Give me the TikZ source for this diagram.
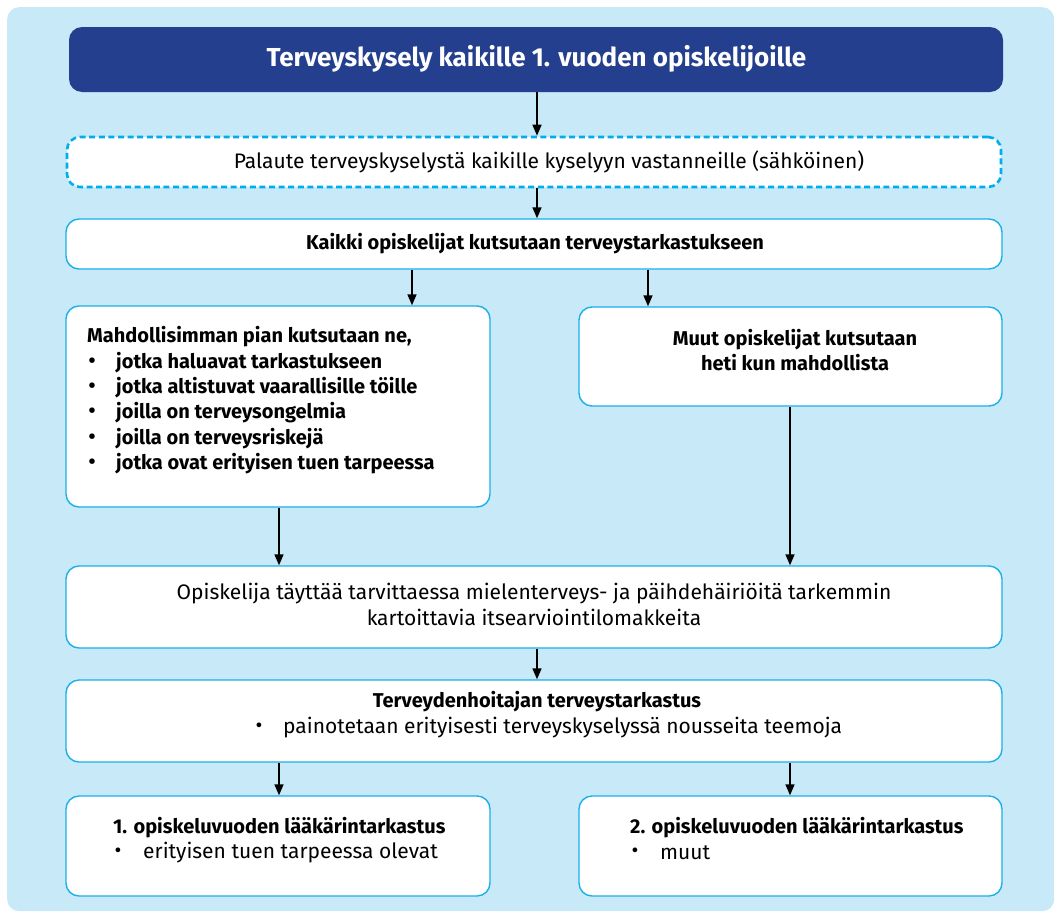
\documentclass[tikz,border=0pt]{standalone}
\usepackage{fontspec}
\setmainfont{Fira Sans}
\usetikzlibrary{arrows.meta}
\definecolor{bgblue}{HTML}{C7E9F8}
\definecolor{navy}{HTML}{243F8D}
\definecolor{cyanb}{HTML}{1AB0EA}
\definecolor{dashc}{HTML}{00AEEF}
\tikzset{
  box/.style={draw=cyanb, line width=1.4pt, fill=white, rounded corners=13pt, inner sep=0pt},
  dbox/.style={draw=dashc, line width=2.6pt, dash pattern=on 6pt off 3.6pt, fill=white, rounded corners=13pt, inner sep=0pt},
  hbox/.style={fill=navy, rounded corners=13pt, inner sep=0pt},
  txt/.style={inner sep=0pt, font=\fontsize{21}{25}\selectfont, text=black},
  btxt/.style={txt, font=\fontsize{20}{25}\selectfont\bfseries},
  arr/.style={line width=1.6pt, -{Triangle[length=11pt,width=9pt]}},
}
\begin{document}
\begin{tikzpicture}[x=1pt,y=-1pt]
\useasboundingbox (0,0) rectangle (1054,913);
\node[fill=bgblue, rounded corners=12pt, inner sep=0pt, minimum width=1047pt, minimum height=904pt, anchor=north west] (bg) at (7,7) {};
% boxes
\node[hbox, minimum width=934pt, minimum height=65pt] (h) at (536,59.5) {};
\node[font=\fontsize{26}{30}\selectfont\bfseries, text=white, inner sep=0pt] (ht) at (536.5,59) {Terveyskysely kaikille 1. vuoden opiskelijoille};
\node[dbox, minimum width=934pt, minimum height=50pt] (d) at (534,162) {};
\node[txt] (dt) at (549,162) {Palaute terveyskyselystä kaikille kyselyyn vastanneille (sähköinen)};
\node[box, minimum width=936pt, minimum height=50pt] (b3) at (534,244) {};
\node[btxt] (b3t) at (535,244) {Kaikki opiskelijat kutsutaan terveystarkastukseen};
\node[box, minimum width=424pt, minimum height=201pt] (bl) at (278,406.5) {};
\node[btxt, anchor=west] (bl0) at (87,337) {Mahdollisimman pian kutsutaan ne,};
\foreach \i/\t in {1/jotka haluavat tarkastukseen,2/jotka altistuvat vaarallisille töille,3/joilla on terveysongelmia,4/joilla on terveysriskejä,5/jotka ovat erityisen tuen tarpeessa}{
  \node[btxt] (blb\i) at (92,337+25.3*\i) {•};
  \node[btxt, anchor=west] (bli\i) at (116,337+25.3*\i) {\t};
}
\node[box, minimum width=423pt, minimum height=99pt] (br) at (790.5,356.5) {};
\node[btxt, align=center, font=\fontsize{20}{25.5}\selectfont\bfseries] (brt) at (795,350) {Muut opiskelijat kutsutaan\\heti kun mahdollista};
\node[box, minimum width=936pt, minimum height=82pt] (b5) at (534,607) {};
\node[txt, align=center, font=\fontsize{21}{26}\selectfont] (b5t) at (534,604) {Opiskelija täyttää tarvittaessa mielenterveys- ja päihdehäiriöitä tarkemmin\\kartoittavia itsearviointilomakkeita};
\node[box, minimum width=936pt, minimum height=82pt] (b6) at (534,721) {};
\node[btxt] (b6t) at (537,702) {Terveydenhoitajan terveystarkastus};
\node[txt] (b6b) at (259,728) {•};
\node[txt, anchor=west] (b6i) at (283,728) {painotetaan erityisesti terveyskyselyssä nousseita teemoja};
\node[box, minimum width=424pt, minimum height=100pt] (bb1) at (278,846) {};
\node[btxt, anchor=west] (bb1t) at (113,828) {1. opiskeluvuoden lääkärintarkastus};
\node[txt] (bb1b) at (118,853) {•};
\node[txt, anchor=west] (bb1i) at (143,853) {erityisen tuen tarpeessa olevat};
\node[box, minimum width=423pt, minimum height=100pt] (bb2) at (790.5,846) {};
\node[btxt, anchor=west] (bb2t) at (630,828) {2. opiskeluvuoden lääkärintarkastus};
\node[txt] (bb2b) at (635,853) {•};
\node[txt, anchor=west] (bb2i) at (660,853) {muut};
% arrows
\coordinate (xc) at (537,0);
\coordinate (xl) at (412,0);
\coordinate (xr) at (648,0);
\coordinate (xL) at (279,0);
\coordinate (xR) at (790,0);
\draw[arr] (h.south -| xc) -- (d.north -| xc);
\draw[arr] (d.south -| xc) -- (b3.north -| xc);
\draw[arr] (b3.south -| xl) -- (bl.north -| xl);
\draw[arr] (b3.south -| xr) -- (br.north -| xr);
\draw[arr] (bl.south -| xL) -- (b5.north -| xL);
\draw[arr] (br.south -| xR) -- (b5.north -| xR);
\draw[arr] (b5.south -| xc) -- (b6.north -| xc);
\draw[arr] (b6.south -| xL) -- (bb1.north -| xL);
\draw[arr] (b6.south -| xR) -- (bb2.north -| xR);
\end{tikzpicture}
\end{document}
